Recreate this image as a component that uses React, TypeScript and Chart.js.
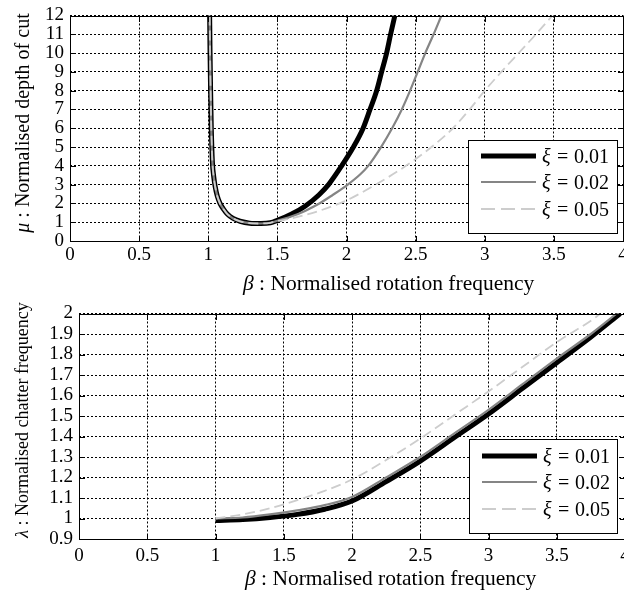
import React, { useEffect, useRef } from "react";
import { Chart, registerables } from "chart.js";

Chart.register(...registerables);

const FONT = '"Liberation Serif", "Times New Roman", Times, serif';

// ---------- shared axis ticks ----------
const betaTicks = [0, 0.5, 1, 1.5, 2, 2.5, 3, 3.5, 4];
const muTicks = [0, 1, 2, 3, 4, 5, 6, 7, 8, 9, 10, 11, 12];
const lambdaTicks = [0.9, 1, 1.1, 1.2, 1.3, 1.4, 1.5, 1.6, 1.7, 1.8, 1.9, 2];
const legendValues = ["0.01", "0.02", "0.05"];

// ---------- top plot: mu vs beta ----------
const betaLeftBranch = [1.01, 1.013, 1.017, 1.022, 1.03, 1.04, 1.05, 1.065, 1.085, 1.11, 1.14, 1.18, 1.23, 1.3, 1.38, 1.45];
const muLeftBranch = [12, 10, 8, 6, 4.2, 3.4, 2.9, 2.4, 2.0, 1.7, 1.42, 1.2, 1.05, 0.95, 0.93, 0.97];

const betaRise001 = [1.5, 1.6, 1.7, 1.8, 1.87, 1.965, 2.05, 2.12, 2.17, 2.218, 2.254, 2.29, 2.319, 2.35];
const muRise001 = [1.1, 1.42, 1.85, 2.45, 3, 4, 5, 6, 7, 8, 9, 10, 11, 12];

const betaRise002 = [1.5, 1.6, 1.7, 1.8, 1.9, 2.0, 2.1, 2.157, 2.25, 2.33, 2.4, 2.46, 2.515, 2.57, 2.63, 2.687];
const muRise002 = [1.08, 1.3, 1.6, 1.98, 2.45, 2.95, 3.55, 4, 5, 6, 7, 8, 9, 10, 11, 12];

const betaRise005 = [1.5, 1.6, 1.7, 1.8, 1.9, 2.0, 2.2, 2.43, 2.615, 2.77, 2.89, 3.0, 3.12, 3.245, 3.37, 3.49];
const muRise005 = [1.06, 1.2, 1.38, 1.6, 1.86, 2.16, 2.95, 4, 5, 6, 7, 8, 9, 10, 11, 12];

// ---------- bottom plot: lambda vs beta ----------
const betaLam001 = [1.0, 1.2, 1.4, 1.6, 1.8, 2.0, 2.25, 2.5, 2.75, 3.0, 3.25, 3.5, 3.75, 3.965];
const lam001 = [0.99, 0.995, 1.005, 1.02, 1.045, 1.085, 1.18, 1.28, 1.395, 1.51, 1.635, 1.76, 1.885, 2.0];

const betaLam002 = [1.0, 1.2, 1.4, 1.6, 1.8, 2.0, 2.25, 2.5, 2.75, 3.0, 3.25, 3.5, 3.75, 3.94];
const lam002 = [1.0, 1.005, 1.02, 1.04, 1.065, 1.105, 1.2, 1.3, 1.415, 1.53, 1.655, 1.78, 1.9, 2.0];

const betaLam005 = [1.0, 1.2, 1.4, 1.6, 1.8, 2.0, 2.25, 2.5, 2.75, 3.0, 3.25, 3.5, 3.75, 3.82];
const lam005 = [1.0, 1.02, 1.05, 1.09, 1.135, 1.19, 1.285, 1.39, 1.505, 1.62, 1.74, 1.86, 1.965, 2.0];

const pts = (xs: number[], ys: number[]) => xs.map((x, i) => ({ x, y: ys[i] }));

const seriesStyles = [
  { borderColor: "#000000", borderWidth: 5, borderDash: [] as number[], order: 3 },
  { borderColor: "#858585", borderWidth: 2.2, borderDash: [] as number[], order: 2 },
  { borderColor: "#cdcdcd", borderWidth: 1.8, borderDash: [10, 5], order: 1 },
];

type Part = [string, boolean];

function drawRich(ctx: CanvasRenderingContext2D, parts: Part[], x: number, y: number, size: number) {
  let cx = x;
  for (const [t, it] of parts) {
    ctx.font = `${it ? "italic " : ""}${size}px ${FONT}`;
    ctx.fillText(t, cx, y);
    cx += ctx.measureText(t).width;
  }
}
function richWidth(ctx: CanvasRenderingContext2D, parts: Part[], size: number) {
  let w = 0;
  for (const [t, it] of parts) {
    ctx.font = `${it ? "italic " : ""}${size}px ${FONT}`;
    w += ctx.measureText(t).width;
  }
  return w;
}

const decorPlugin = {
  id: "decor",
  afterDatasetsDraw(chart: any) {
    const { ctx, chartArea } = chart;
    const { left, right, top, bottom } = chartArea;
    ctx.save();
    ctx.setLineDash([]);
    ctx.strokeStyle = "#000";
    ctx.lineWidth = 1;
    const xs = chart.scales.x;
    const ys = chart.scales.y;
    ctx.beginPath();
    xs.ticks.forEach((t: any) => {
      const px = Math.round(xs.getPixelForValue(t.value)) + 0.5;
      ctx.moveTo(px, Math.round(bottom) + 0.5);
      ctx.lineTo(px, Math.round(bottom) - 5);
      ctx.moveTo(px, Math.round(top) + 0.5);
      ctx.lineTo(px, Math.round(top) + 6);
    });
    ys.ticks.forEach((t: any) => {
      const py = Math.round(ys.getPixelForValue(t.value)) + 0.5;
      ctx.moveTo(Math.round(left) + 0.5, py);
      ctx.lineTo(Math.round(left) + 6, py);
      ctx.moveTo(Math.round(right) + 0.5, py);
      ctx.lineTo(Math.round(right) - 5, py);
    });
    ctx.stroke();
    ctx.strokeRect(Math.round(left) + 0.5, Math.round(top) + 0.5, Math.round(right) - Math.round(left), Math.round(bottom) - Math.round(top));
    ctx.restore();
  },
  afterDraw(chart: any, _args: any, opts: any) {
    const { ctx } = chart;
    ctx.save();
    ctx.fillStyle = "#000";
    ctx.textBaseline = "alphabetic";
    if (opts.xTitle) {
      drawRich(ctx, opts.xTitle.parts, opts.xTitle.x, opts.xTitle.y, opts.xTitle.size);
    }
    if (opts.yTitle) {
      const w = richWidth(ctx, opts.yTitle.parts, opts.yTitle.size);
      ctx.save();
      ctx.translate(opts.yTitle.x, opts.yTitle.cy);
      ctx.rotate(-Math.PI / 2);
      drawRich(ctx, opts.yTitle.parts, -w / 2, 0, opts.yTitle.size);
      ctx.restore();
    }
    if (opts.legend) {
      const b = opts.legend;
      ctx.fillStyle = "#fff";
      ctx.fillRect(b.x, b.y, b.w, b.h);
      ctx.strokeStyle = "#000";
      ctx.lineWidth = 1;
      ctx.setLineDash([]);
      ctx.strokeRect(b.x + 0.5, b.y + 0.5, b.w, b.h);
      chart.data.datasets.forEach((ds: any, i: number) => {
        const base = b.y + b.rows[i];
        const ly = base - 7;
        ctx.save();
        ctx.strokeStyle = ds.borderColor;
        ctx.lineWidth = ds.borderWidth;
        ctx.setLineDash(ds.borderDash && ds.borderDash.length ? [14, 6] : []);
        ctx.beginPath();
        ctx.moveTo(b.x + 13, ly);
        ctx.lineTo(b.x + 68, ly);
        ctx.stroke();
        ctx.restore();
        ctx.fillStyle = "#000";
        const tx = b.x + 74;
        ctx.font = `italic 20px ${FONT}`;
        ctx.fillText("ξ", tx, base);
        ctx.font = `20px ${FONT}`;
        ctx.fillText("=", tx + 15, base);
        ctx.fillText(legendValues[i], tx + 32, base);
      });
    }
    ctx.restore();
  },
};

function makeConfig(p: any) {
  return {
    type: "line",
    data: {
      datasets: p.series.map((s: any, i: number) => ({
        label: "ξ = " + legendValues[i],
        data: s,
        borderColor: seriesStyles[i].borderColor,
        borderWidth: seriesStyles[i].borderWidth,
        borderDash: seriesStyles[i].borderDash,
        order: seriesStyles[i].order,
        pointRadius: 0,
        fill: false,
        cubicInterpolationMode: "monotone",
        borderCapStyle: "butt",
        borderJoinStyle: "round",
      })),
    },
    options: {
      responsive: false,
      animation: false,
      devicePixelRatio: 1,
      layout: { padding: { top: p.padTop, right: p.padRight, left: 0, bottom: 0 } },
      plugins: {
        legend: { display: false },
        tooltip: { enabled: false },
        decor: p.decor,
      },
      scales: {
        x: {
          type: "linear",
          min: 0,
          max: 4,
          afterBuildTicks: (s: any) => { s.ticks = betaTicks.map((v) => ({ value: v })); },
          afterFit: (s: any) => { s.height = p.xHeight; },
          ticks: {
            color: "#000",
            font: { family: FONT, size: 19, lineHeight: 1 },
            padding: p.xPad,
            maxRotation: 0,
            autoSkip: false,
            callback: (v: number) => String(Math.round(v * 10) / 10),
          },
          grid: { color: "#000", lineWidth: 1, drawTicks: false },
          border: { display: false, dash: [2, 2] },
        },
        y: {
          type: "linear",
          min: p.yMin,
          max: p.yMax,
          afterBuildTicks: (s: any) => { s.ticks = p.yTicks.map((v: number) => ({ value: v })); },
          afterFit: (s: any) => { s.width = p.yWidth; },
          ticks: {
            color: "#000",
            font: { family: FONT, size: 19, lineHeight: 1 },
            padding: 6,
            autoSkip: false,
            callback: (v: number) => String(Math.round(v * 10) / 10),
          },
          grid: { color: "#000", lineWidth: 1, drawTicks: false },
          border: { display: false, dash: [2, 2] },
        },
      },
    },
    plugins: [decorPlugin],
  };
}

function Panel(props: { top: number; width: number; height: number; cfg: any }) {
  const ref = useRef<HTMLCanvasElement>(null);
  useEffect(() => {
    if (!ref.current) return;
    const chart = new Chart(ref.current, props.cfg);
    return () => chart.destroy();
  }, []);
  return (
    <canvas
      ref={ref}
      width={props.width}
      height={props.height}
      style={{ position: "absolute", left: 0, top: props.top, width: props.width, height: props.height, display: "block" }}
    />
  );
}

export default function App() {
  const topCfg = makeConfig({
    series: [
      pts(betaLeftBranch.concat(betaRise001), muLeftBranch.concat(muRise001)),
      pts(betaLeftBranch.concat(betaRise002), muLeftBranch.concat(muRise002)),
      pts(betaLeftBranch.concat(betaRise005), muLeftBranch.concat(muRise005)),
    ],
    yMin: 0,
    yMax: 12,
    yTicks: muTicks,
    yWidth: 70,
    xHeight: 59,
    xPad: 5,
    padTop: 9,
    padRight: 17,
    decor: {
      xTitle: { parts: [["β", true], [" : ", false], ["Normalised rotation frequency", false]], x: 243, y: 290, size: 21.5 },
      yTitle: { parts: [["μ", true], [" : ", false], ["Normalised depth of cut", false]], x: 29, cy: 123, size: 20 },
      legend: { x: 468, y: 140, w: 149, h: 93, rows: [23, 49, 76] },
    },
  });
  const botCfg = makeConfig({
    series: [pts(betaLam001, lam001), pts(betaLam002, lam002), pts(betaLam005, lam005)],
    yMin: 0.9,
    yMax: 2,
    yTicks: lambdaTicks,
    yWidth: 79,
    xHeight: 58,
    xPad: 8,
    padTop: 10,
    padRight: 15,
    decor: {
      xTitle: { parts: [["β", true], [" : ", false], ["Normalised rotation frequency", false]], x: 245, y: 287, size: 21.5 },
      yTitle: { parts: [["λ", true], [" : ", false], ["Normalised chatter frequency", false]], x: 28, cy: 122, size: 18 },
      legend: { x: 469, y: 141, w: 148, h: 94, rows: [24, 50, 77] },
    },
  });
  return (
    <div style={{ position: "absolute", left: 0, top: 0, width: 624, height: 597, overflow: "hidden", background: "#fff" }}>
      <Panel top={0} width={640} height={300} cfg={topCfg} />
      <Panel top={298} width={640} height={299} cfg={botCfg} />
    </div>
  );
}
